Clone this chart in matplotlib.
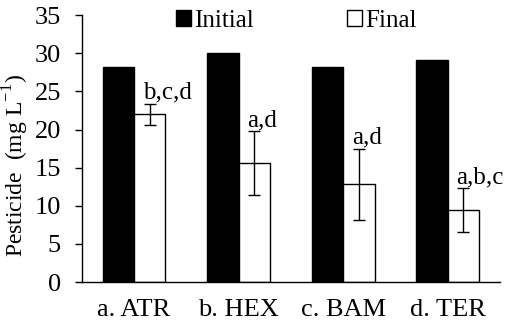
import numpy as np
import matplotlib
matplotlib.use('Agg')
import matplotlib.pyplot as plt

plt.rcParams['font.family'] = ['Liberation Serif', 'DejaVu Serif']
plt.rcParams['mathtext.fontset'] = 'custom'
plt.rcParams['mathtext.rm'] = 'Liberation Serif'

cats = ['a. ATR', 'b. HEX', 'c. BAM', 'd. TER']
initial = [28.2, 30.1, 28.2, 29.1]
final = [22.0, 15.6, 12.8, 9.4]
final_err = [1.4, 4.2, 4.7, 2.9]
letters = ['b,c,d', 'a,d', 'a,d', 'a,b,c']

fig = plt.figure(figsize=(5.05, 3.22), dpi=100)
ax = fig.add_axes([0.162, 0.124, 0.828, 0.829])

x = np.arange(len(cats))
w = 0.3
ax.bar(x - w / 2, initial, w, color='black', edgecolor='black', lw=1, label='Initial')
ax.bar(x + w / 2, final, w, color='white', edgecolor='black', lw=1, label='Final')
ax.errorbar(x + w / 2, final, yerr=final_err, fmt='none', ecolor='black',
            elinewidth=1, capsize=4, capthick=1)

for xi, v, e, t in zip(x, final, final_err, letters):
    ax.annotate(t, (xi + w / 2, v + e), xytext=(-5, 0), textcoords='offset points',
                ha='left', va='bottom', fontsize=18)

ax.set_xlim(-0.5, 3.5)
ax.set_ylim(0, 35)
ax.set_yticks(range(0, 36, 5))
ax.set_xticks(x)
ax.set_xticklabels(cats)
ax.tick_params(axis='y', labelsize=19, length=5, width=1, direction='out', pad=10)
ax.tick_params(axis='x', labelsize=19, length=0, pad=12)
ax.spines['top'].set_visible(False)
ax.spines['right'].set_visible(False)
ax.spines['left'].set_linewidth(1)
ax.spines['bottom'].set_linewidth(1)
ax.set_ylabel('Pesticide  (mg L$^{\\mathrm{-1}}$)', fontsize=17)
ax.yaxis.set_label_coords(-0.122, 0.438)

fig.legend(loc='upper center', bbox_to_anchor=(0.587, 1.04), ncol=2, frameon=False,
           fontsize=18, handlelength=0.6, handleheight=0.6, handletextpad=0.15,
           columnspacing=3.7)

fig.savefig('out.png', dpi=100)
